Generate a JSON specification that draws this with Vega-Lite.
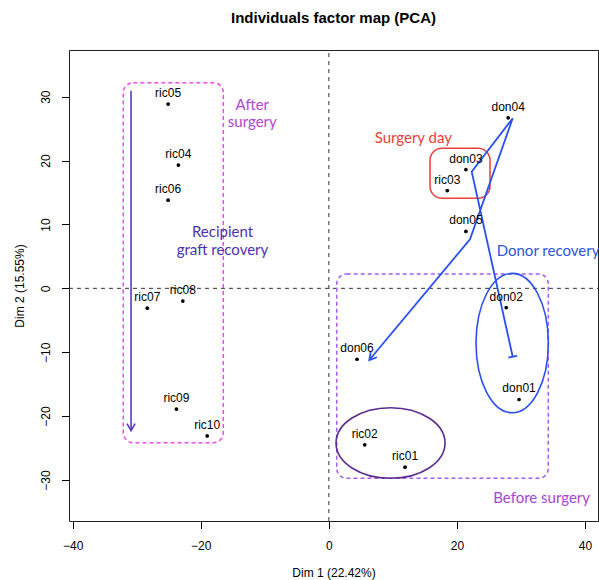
{
  "$schema": "https://vega.github.io/schema/vega-lite/v6.json",
  "width": 529,
  "height": 471,
  "autosize": {"type": "none"},
  "padding": {"left": 69, "top": 50, "right": 1, "bottom": 59},
  "title": {
    "text": "Individuals factor map (PCA)",
    "font": "Liberation Sans",
    "fontSize": 15,
    "fontWeight": "bold",
    "color": "black",
    "anchor": "middle",
    "baseline": "alphabetic",
    "offset": 12
  },
  "config": {
    "view": {"stroke": "#222", "strokeWidth": 1},
    "font": "Liberation Sans"
  },
  "datasets": {
    "ind": [
      {"name": "ric05", "x": -25.1, "y": 28.85},
      {"name": "ric04", "x": -23.5, "y": 19.3},
      {"name": "ric06", "x": -25.1, "y": 13.8},
      {"name": "ric08", "x": -22.8, "y": -2.0},
      {"name": "ric07", "x": -28.35, "y": -3.1},
      {"name": "ric09", "x": -23.8, "y": -18.9},
      {"name": "ric10", "x": -19.0, "y": -23.1},
      {"name": "don04", "x": 28.0, "y": 26.7},
      {"name": "don03", "x": 21.4, "y": 18.6},
      {"name": "ric03", "x": 18.5, "y": 15.3},
      {"name": "don05", "x": 21.4, "y": 8.9},
      {"name": "don02", "x": 27.7, "y": -3.0},
      {"name": "don06", "x": 4.4, "y": -11.1},
      {"name": "don01", "x": 29.7, "y": -17.4},
      {"name": "ric02", "x": 5.6, "y": -24.5},
      {"name": "ric01", "x": 11.9, "y": -28.0}
    ],
    "boxes": [
      {"kind": "after", "x": -32.1, "x2": -16.48, "y": 32.19, "y2": -24.16},
      {"kind": "surgery", "x": 15.8, "x2": 25.17, "y": 21.92, "y2": 14.1},
      {"kind": "before", "x": 1.23, "x2": 34.27, "y": 2.25, "y2": -29.74}
    ],
    "ellipses": [
      {"kind": "donor", "x": 28.63, "y": -8.56},
      {"kind": "recipient", "x": 9.63, "y": -24.21}
    ],
    "path": [
      {"step": 1, "x": 28.71, "y": -10.7},
      {"step": 2, "x": 22.31, "y": 18.26},
      {"step": 3, "x": 28.71, "y": 26.62},
      {"step": 4, "x": 22.04, "y": 7.68},
      {"step": 5, "x": 6.32, "y": -11.22}
    ],
    "blueHead": [{"x": 6.32, "y": -11.22}],
    "blueTail": [{"x": 28.71, "y": -10.7}],
    "purpleArrow": [{"x": -30.89, "y": 30.94, "y2": -22.28}],
    "purpleHead": [{"x": -30.89, "y": -22.28}],
    "zeroV": [{"x": 0, "y": -36.42, "y2": 37.31}],
    "zeroH": [{"x": -40.578, "x2": 42.03, "y": 0}],
    "notes": [
      {"kind": "after", "label": "After\nsurgery", "x": -11.95, "y": 27.92},
      {"kind": "graft", "label": "Recipient\ngraft recovery", "x": -16.61, "y": 8.09},
      {"kind": "surgery", "label": "Surgery day", "x": 13.19, "y": 22.71},
      {"kind": "before", "label": "Before surgery", "x": 33.23, "y": -33.65}
    ],
    "donorNote": [{"label": "Donor recovery", "x": 26.21, "y": 5.06}]
  },
  "encoding": {
    "x": {
      "field": "x",
      "type": "quantitative",
      "scale": {"domain": [-40.578, 42.03], "nice": false, "zero": false},
      "axis": {
        "title": "Dim 1 (22.42%)",
        "values": [-40, -20, 0, 20, 40],
        "grid": false,
        "domain": false,
        "ticks": true,
        "tickSize": 7.5,
        "tickColor": "black",
        "tickWidth": 1,
        "labelFont": "Liberation Sans",
        "labelFontSize": 12,
        "labelColor": "black",
        "labelBaseline": "alphabetic",
        "labelPadding": 20.6,
        "labelFlush": false,
        "labelOverlap": false,
        "titleFont": "Liberation Sans",
        "titleFontSize": 12,
        "titleFontWeight": "normal",
        "titleColor": "black",
        "titleBaseline": "alphabetic",
        "titleY": 55
      }
    },
    "y": {
      "field": "y",
      "type": "quantitative",
      "scale": {"domain": [-36.42, 37.31], "nice": false, "zero": false},
      "axis": {
        "title": "Dim 2 (15.55%)",
        "values": [-30, -20, -10, 0, 10, 20, 30],
        "grid": false,
        "domain": false,
        "ticks": true,
        "tickSize": 7.5,
        "tickColor": "black",
        "tickWidth": 1,
        "labelFont": "Liberation Sans",
        "labelFontSize": 12,
        "labelColor": "black",
        "labelAngle": 270,
        "labelAlign": "center",
        "labelBaseline": "alphabetic",
        "labelPadding": 11.6,
        "labelFlush": false,
        "labelOverlap": false,
        "titleFont": "Liberation Sans",
        "titleFontSize": 12,
        "titleFontWeight": "normal",
        "titleColor": "black",
        "titleAngle": 270,
        "titleBaseline": "alphabetic",
        "titleX": -45.8
      }
    }
  },
  "layer": [
    {
      "data": {"name": "zeroV"},
      "mark": {"type": "rule", "color": "#333", "strokeDash": [4, 4], "strokeWidth": 1},
      "encoding": {"y2": {"field": "y2"}}
    },
    {
      "data": {"name": "zeroH"},
      "mark": {"type": "rule", "color": "#333", "strokeDash": [4, 4], "strokeWidth": 1},
      "encoding": {"x2": {"field": "x2"}}
    },
    {
      "data": {"name": "boxes"},
      "transform": [{"filter": "datum.kind === 'after'"}],
      "mark": {"type": "rect", "fill": "transparent", "stroke": "#ee48ee", "strokeWidth": 1.5, "strokeDash": [4, 3], "cornerRadius": 10},
      "encoding": {"x2": {"field": "x2"}, "y2": {"field": "y2"}}
    },
    {
      "data": {"name": "boxes"},
      "transform": [{"filter": "datum.kind === 'surgery'"}],
      "mark": {"type": "rect", "fill": "transparent", "stroke": "#e8413a", "strokeWidth": 1.5, "cornerRadius": 12},
      "encoding": {"x2": {"field": "x2"}, "y2": {"field": "y2"}}
    },
    {
      "data": {"name": "boxes"},
      "transform": [{"filter": "datum.kind === 'before'"}],
      "mark": {"type": "rect", "fill": "transparent", "stroke": "#a55cf2", "strokeWidth": 1.5, "strokeDash": [4, 3], "cornerRadius": 10},
      "encoding": {"x2": {"field": "x2"}, "y2": {"field": "y2"}}
    },
    {
      "data": {"name": "ellipses"},
      "transform": [{"filter": "datum.kind === 'donor'"}],
      "mark": {
        "type": "point",
        "filled": false,
        "stroke": "#2a4ff0",
        "strokeWidth": 1.6,
        "opacity": 1,
        "size": 19432,
        "shape": "M0.519,0C0.519,0.552 0.287,1 0,1C-0.287,1 -0.519,0.552 -0.519,0C-0.519,-0.552 -0.287,-1 0,-1C0.287,-1 0.519,-0.552 0.519,0Z"
      }
    },
    {
      "data": {"name": "ellipses"},
      "transform": [{"filter": "datum.kind === 'recipient'"}],
      "mark": {
        "type": "point",
        "filled": false,
        "stroke": "#5b2d8e",
        "strokeWidth": 1.6,
        "opacity": 1,
        "size": 11881,
        "shape": "M1,0C1,0.358 0.552,0.648 0,0.648C-0.552,0.648 -1,0.358 -1,0C-1,-0.358 -0.552,-0.648 0,-0.648C0.552,-0.648 1,-0.358 1,0Z"
      }
    },
    {
      "data": {"name": "path"},
      "mark": {"type": "line", "color": "#2a50f2", "strokeWidth": 1.8},
      "encoding": {"order": {"field": "step", "type": "quantitative"}}
    },
    {
      "data": {"name": "blueHead"},
      "mark": {"type": "point", "filled": false, "stroke": "#2a50f2", "strokeWidth": 1.8, "opacity": 1, "size": 196, "angle": 40, "shape": "M-0.577,-1L0,0L0.577,-1"}
    },
    {
      "data": {"name": "blueTail"},
      "mark": {"type": "point", "filled": false, "stroke": "#2a50f2", "strokeWidth": 1.8, "opacity": 1, "size": 81, "angle": -12, "shape": "M-1,0L1,0"}
    },
    {
      "data": {"name": "purpleArrow"},
      "mark": {"type": "rule", "color": "#5a3ab8", "strokeWidth": 1.6},
      "encoding": {"y2": {"field": "y2"}}
    },
    {
      "data": {"name": "purpleHead"},
      "mark": {"type": "point", "filled": false, "stroke": "#5a3ab8", "strokeWidth": 1.6, "opacity": 1, "size": 196, "angle": 0, "shape": "M-0.577,-1L0,0L0.577,-1"}
    },
    {
      "data": {"name": "ind"},
      "mark": {"type": "point", "shape": "circle", "filled": true, "color": "black", "opacity": 1, "size": 14}
    },
    {
      "data": {"name": "ind"},
      "mark": {"type": "text", "font": "Liberation Sans", "fontSize": 12, "color": "black", "align": "center", "baseline": "alphabetic", "dy": -7},
      "encoding": {"text": {"field": "name"}}
    },
    {
      "data": {"name": "notes"},
      "transform": [{"filter": "datum.kind === 'after'"}],
      "mark": {"type": "text", "font": "Lato", "fontSize": 15, "color": "#b046d4", "align": "center", "baseline": "alphabetic", "lineBreak": "\n", "lineHeight": 17.5},
      "encoding": {"text": {"field": "label"}}
    },
    {
      "data": {"name": "notes"},
      "transform": [{"filter": "datum.kind === 'graft'"}],
      "mark": {"type": "text", "font": "Lato", "fontSize": 15, "color": "#4a33ae", "align": "center", "baseline": "alphabetic", "lineBreak": "\n", "lineHeight": 18.3},
      "encoding": {"text": {"field": "label"}}
    },
    {
      "data": {"name": "notes"},
      "transform": [{"filter": "datum.kind === 'surgery'"}],
      "mark": {"type": "text", "font": "Lato", "fontSize": 15, "color": "#e8413a", "align": "center", "baseline": "alphabetic"},
      "encoding": {"text": {"field": "label"}}
    },
    {
      "data": {"name": "notes"},
      "transform": [{"filter": "datum.kind === 'before'"}],
      "mark": {"type": "text", "font": "Lato", "fontSize": 15, "color": "#a845d4", "align": "center", "baseline": "alphabetic"},
      "encoding": {"text": {"field": "label"}}
    },
    {
      "data": {"name": "donorNote"},
      "mark": {"type": "text", "font": "Lato", "fontSize": 15, "color": "#2c55d8", "align": "left", "baseline": "alphabetic"},
      "encoding": {"text": {"field": "label"}}
    }
  ]
}
